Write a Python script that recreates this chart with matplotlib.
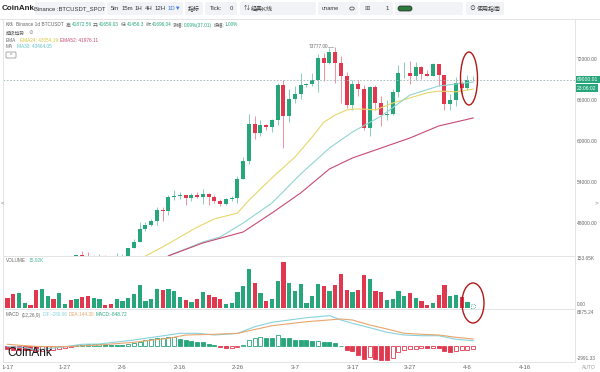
import matplotlib
matplotlib.use("Agg")
import matplotlib.pyplot as plt
import matplotlib.dates as mdates
from matplotlib.patches import Ellipse, FancyBboxPatch
from matplotlib.transforms import Bbox, IdentityTransform, blended_transform_factory
import pandas as pd

plt.rcParams['font.family'] = ['Liberation Sans', 'Noto Sans CJK SC', 'DejaVu Sans']

# ---- data: Binance BTCUSDT 1d, 2024-01-17 .. 2024-04-07 ----
dates = pd.date_range('2024-01-17', '2024-04-07', freq='D')

opens = [43137.94, 42776.00, 41327.51, 41659.03, 41696.05, 41580.32, 39568.02, 39897.59,
         40084.89, 39961.09, 41823.51, 42120.63, 42031.05, 43302.71, 42941.10,
         42580.00, 43082.94, 43199.99, 43011.09, 42582.88, 42708.70, 43098.96, 44349.60,
         45288.66, 47132.78, 47751.08, 48300.00, 49917.28, 49699.60, 51795.17, 51880.01,
         52124.10, 51642.64, 52137.68, 51774.74, 52258.82, 51849.38, 51288.42, 50744.15,
         51568.21, 51728.85, 54476.48, 57037.35, 62432.11,
         61130.99, 62387.90, 61987.28, 63113.97, 68245.71, 63724.01, 66074.03, 66823.18,
         68124.20, 68313.28, 68955.88, 72078.10, 71452.00, 73072.40, 71388.94, 69499.84,
         65300.64, 68393.47, 67610.00, 61937.41, 67840.51, 65501.28, 63796.64, 63990.02,
         67210.00, 69880.00, 69988.00, 69469.99, 70780.60, 69850.53, 69582.17,
         71280.00, 69649.81, 65463.99, 65963.27, 68487.80, 67820.63, 68896.00]
highs = [43198.00, 42930.00, 42196.86, 41872.56, 41881.39, 41689.65, 40176.74, 40555.00,
         40300.24, 42246.82, 42200.00, 42842.68, 43333.00, 43882.36, 43745.11,
         43285.13, 43488.00, 43380.01, 43119.04, 43569.76, 43399.98, 44396.50, 45614.30,
         48200.00, 48170.00, 48592.66, 50334.82, 50368.61, 52043.71, 52816.62, 52572.08,
         52162.82, 52377.00, 52488.77, 52985.00, 52366.80, 52065.78, 51548.54, 51698.00,
         51958.55, 54910.00, 57588.15, 64000.00, 63676.35,
         63114.23, 62433.19, 63231.88, 68499.00, 69000.00, 67637.93, 67985.00, 69990.00,
         68541.10, 69887.61, 72800.00, 72890.00, 73650.25, 73777.00, 72419.71, 70043.00,
         68904.40, 68956.00, 68124.11, 68100.00, 68240.47, 66649.62, 65999.00, 67628.69,
         71150.00, 71561.10, 71769.54, 71552.06, 70916.16, 70321.10, 71366.00,
         71288.23, 69674.23, 66903.63, 69309.91, 68756.67, 69692.00, 69500.00]
lows = [42200.69, 40683.28, 40280.00, 41456.30, 41500.98, 39431.58, 38555.00, 39484.19,
        39550.00, 39822.52, 41394.34, 41620.81, 41804.88, 42683.99, 42276.84,
        41884.28, 42546.79, 42880.00, 42222.00, 42258.10, 42574.00, 42788.00, 44331.10,
        45242.12, 46800.00, 47557.16, 47710.01, 48300.95, 49225.01, 51314.00, 51566.00,
        50625.00, 51163.28, 51677.00, 50760.37, 50625.00, 50940.78, 50521.00, 50585.00,
        51279.80, 50901.44, 54450.13, 56691.85, 60364.70,
        60777.00, 61561.12, 61320.00, 62300.00, 59005.00, 62848.67, 65550.00, 66082.66,
        67861.10, 68094.75, 67194.88, 68845.86, 71333.31, 68555.00, 65600.00, 64780.00,
        64533.00, 66565.20, 61555.00, 60775.00, 64529.01, 62260.00, 63000.00, 63772.29,
        66385.06, 69280.00, 68359.18, 68903.62, 69009.00, 69540.00, 69562.99,
        68062.86, 64550.00, 64493.07, 65064.52, 66578.39, 67447.83, 68716.00]
closes = [42776.10, 41327.50, 41659.03, 41696.04, 41580.33, 39568.02, 39897.60, 40084.88,
          39961.09, 41823.51, 42120.63, 42031.06, 43302.70, 42941.10, 42580.00,
          43082.94, 43200.00, 43011.10, 42582.88, 42708.70, 43098.95, 44349.60, 45288.65,
          47132.77, 47751.09, 48299.99, 49917.27, 49699.59, 51795.17, 51880.00, 52124.11,
          51642.64, 52137.67, 51774.73, 52258.82, 51849.39, 51288.42, 50744.15, 51568.22,
          51728.85, 54476.47, 57037.34, 62432.10, 61130.98,
          62387.90, 61987.28, 63113.97, 68245.71, 63724.01, 66074.04, 66823.17, 68124.19,
          68313.27, 68955.88, 72078.10, 71452.01, 73072.41, 71388.94, 69499.85, 65300.63,
          68393.48, 67609.99, 61937.40, 67840.51, 65501.27, 63796.64, 63990.01, 67209.99,
          69880.01, 69988.00, 69469.99, 70780.60, 69850.54, 69582.18, 71280.01,
          69649.80, 65463.99, 65963.28, 68487.79, 67820.62, 68896.00, 69000.01]

# volume in thousands of BTC
volumes = [33.8, 45.8, 51.2, 15.92, 8.7, 58.9, 62.0, 40.3, 31.6, 49.0, 13.0, 26.2, 31.6,
           38.1, 41.4,
           34.9, 29.4, 9.8, 14.2, 29.4, 24.0, 34.9, 46.9, 78.5, 22.9, 29.4, 63.2, 60.0,
           62.0, 57.8, 38.1, 25.1, 20.7, 29.4, 52.3, 44.7, 36.0, 30.5, 14.2, 15.3, 53.4,
           71.9, 129.7, 84.0,
           49.0, 24.0, 29.4, 91.6, 153.65, 85.0, 55.6, 79.5, 17.4, 39.2, 80.7, 74.2, 55.6,
           77.5, 113.4, 58.9, 52.3, 58.9, 110.2, 98.1, 55.6, 54.6, 26.2, 31.7, 55.6, 39.2,
           51.3, 35.0, 23.9, 9.8, 17.3,
           42.5, 77.5, 40.2, 42.5, 37.0, 18.6, 12.0]

# MACD histogram
macd_hist = [-600, -780, -820, -848.72, -900, -1070, -1000, -850, -720, -560, -380, -220,
             280, 300, 420,
             480, 520, 380, 240, 210, 190, 420, 710, 1000, 1350, 1570, 1780, 1920, 2060,
             2100, 1710, 1430, 1210, 1000, 860, 500, 290, -250, -320, -280, -150, 360,
             1430, 1850,
             2000, 1900, 1850, 2500, 1850, 1780, 1500, 1430, 1360, 1210, 1250, 1070, 1050,
             780, 100, -860, -1000, -1920, -2780, -2500, -2780, -2960, -2991.33, -2640,
             -1210, -930, -640, -500, -360, -420, -300,
             -430, -1070, -1210, -1070, -930, -780, -710]

# indicator lines
ema24_dates = ['2024-02-10', '2024-02-13', '2024-02-19', '2024-02-22', '2024-02-26',
               '2024-02-28', '2024-03-03', '2024-03-07', '2024-03-10', '2024-03-12',
               '2024-03-14', '2024-03-16', '2024-03-18', '2024-03-21', '2024-03-24',
               '2024-03-27', '2024-03-30', '2024-04-01', '2024-04-04', '2024-04-07']
ema24_vals = [43170, 44500, 47400, 48600, 49450, 51350, 54600, 57650, 60600, 62750,
              63800, 64550, 64700, 64550, 65550, 66300, 67050, 67300, 67200, 67600]
ma30_dates = ['2024-02-14', '2024-02-20', '2024-02-23', '2024-02-27', '2024-03-03',
              '2024-03-08', '2024-03-13', '2024-03-17', '2024-03-22', '2024-03-27',
              '2024-04-01', '2024-04-07']
ma30_vals = [43200, 45230, 45960, 48000, 50930, 55175, 58980, 61320, 63660, 66730,
             68050, 68630]
ema52_dates = ['2024-02-14', '2024-02-20', '2024-02-27', '2024-03-03', '2024-03-08',
               '2024-03-13', '2024-03-17', '2024-03-22', '2024-03-27', '2024-04-01',
               '2024-04-07']
ema52_vals = [43200, 45080, 46690, 49470, 52400, 55910, 57520, 58980, 60440, 62200, 63370]

dif_dates = ['2024-01-17', '2024-01-20', '2024-01-22', '2024-01-27', '2024-01-30',
             '2024-02-02', '2024-02-08', '2024-02-12', '2024-02-16', '2024-02-19',
             '2024-02-22', '2024-02-26', '2024-02-29', '2024-03-03', '2024-03-06',
             '2024-03-09', '2024-03-13', '2024-03-15', '2024-03-17', '2024-03-20',
             '2024-03-23', '2024-03-26', '2024-03-29', '2024-04-01', '2024-04-04',
             '2024-04-07']
dif_vals = [-50, -280.06, -830, -90, 450, 515, 1410, 2150, 2910, 2910, 2530, 2870, 4390,
            5380, 5890, 6400, 6875.24, 5890, 5150, 4170, 3140, 2530, 2370, 2370, 1570, 1250]
dea_dates = ['2024-01-17', '2024-01-20', '2024-01-23', '2024-01-27', '2024-02-02',
             '2024-02-08', '2024-02-14', '2024-02-17', '2024-02-22', '2024-02-26',
             '2024-03-03', '2024-03-09', '2024-03-15', '2024-03-17', '2024-03-20',
             '2024-03-23', '2024-03-26', '2024-03-29', '2024-04-01', '2024-04-04',
             '2024-04-07']
dea_vals = [450, 144.30, -90, -90, 290, 900, 1790, 2530, 2690, 2910, 4610, 5510, 6115,
            5890, 4770, 3875, 2910, 2690, 2530, 2016, 1635]

price_ticks = [48000, 54000, 60000, 66000, 72000]
date_ticks = ['2024-01-17', '2024-01-27', '2024-02-06', '2024-02-16', '2024-02-26',
              '2024-03-07', '2024-03-17', '2024-03-27', '2024-04-06', '2024-04-16']
date_labels = ['1-17', '1-27', '2-6', '2-16', '2-26', '3-7', '3-17', '3-27', '4-6', '4-16']
last_price = 69000.01
ath = 73777.00

# ---- style ----
W, H = 600, 372
GREEN = '#27a57b'
RED = '#e0394f'
GRAY = '#666666'
LINE = '#e4e4e4'
C_EMA24 = '#e6d76a'
C_EMA52 = '#c84a72'
C_MA30 = '#8fd5d3'
C_DIF = '#86d2dc'
C_DEA = '#e8a56c'

fig = plt.figure(figsize=(6, 3.72), dpi=100)
ident = IdentityTransform()


def ax_at(x0, y0, x1, y1, **kw):
    return fig.add_axes([x0 / W, 1 - y1 / H, (x1 - x0) / W, (y1 - y0) / H], **kw)


def txt(x, y, s, size=4, color=GRAY, **kw):
    kw.setdefault('va', 'center')
    return fig.text(x, H - y, s, transform=ident, fontsize=size, color=color, **kw)


def segs(x, y, parts, size):
    r = fig.canvas.get_renderer()
    for s, c, gap in parts:
        t = txt(x, y, s, size, c)
        x += t.get_window_extent(r).width + gap


def box(x0, x1, y0, y1, fc='#f1f3f6'):
    fig.patches.append(FancyBboxPatch((x0, H - y1), x1 - x0, y1 - y0,
                                      boxstyle='round,pad=0,rounding_size=2',
                                      transform=ident, fc=fc, ec='none'))


x = mdates.date2num(dates)
base = mdates.date2num(pd.Timestamp('2024-01-27'))
xlim = (base - 10.78, base + 88.7)
cols = [GREEN if c >= o else RED for o, c in zip(opens, closes)]

ax = ax_at(3, 19, 575, 256)
axv = ax_at(3, 256, 575, 309, sharex=ax)
axm = ax_at(3, 309, 575, 362, sharex=ax)
for a in (ax, axv, axm):
    a.set_xlim(*xlim)
    for sp in a.spines.values():
        sp.set_color(LINE)
        sp.set_linewidth(0.7)
    a.tick_params(length=0, labelsize=3.5, colors=GRAY, labelbottom=False)
    a.set_yticks([])

# ---- candles ----
ax.vlines(x, lows, highs, colors=cols, lw=0.7, alpha=0.55)
bottoms = [min(o, c) for o, c in zip(opens, closes)]
heights = [max(abs(c - o), 70) for o, c in zip(opens, closes)]
ax.bar(x, heights, bottom=bottoms, width=0.7, color=cols, lw=0)
ax.plot(mdates.date2num(pd.to_datetime(ema24_dates)), ema24_vals, color=C_EMA24, lw=0.8)
ax.plot(mdates.date2num(pd.to_datetime(ma30_dates)), ma30_vals, color=C_MA30, lw=0.8)
ax.plot(mdates.date2num(pd.to_datetime(ema52_dates)), ema52_vals, color=C_EMA52, lw=0.8)
ax.axhline(last_price, color='#9fb3b8', lw=0.6, ls=(0, (2, 2)))
ax.set_ylim(43170, 77854)

ath_x = mdates.date2num(pd.Timestamp('2024-03-14'))
ax.plot([ath_x - 1.2, ath_x - 0.4], [ath, ath], color='#999999', lw=0.5)
ax.text(ath_x - 1.3, ath, '%.2f' % ath, fontsize=3.4, color=GRAY, ha='right', va='center')

ax.yaxis.tick_right()
ax.set_yticks(price_ticks)
ax.set_yticklabels(['%.2f' % p for p in price_ticks])
ax.tick_params(axis='y', pad=1.5)

# ---- volume ----
axv.bar(x[:-1], volumes[:-1], width=0.72, color=cols[:-1], lw=0)
axv.bar(x[-1:], volumes[-1:], width=0.72, fc='none', ec=GREEN, lw=0.6, ls=':')
axv.set_ylim(-3.3, 173.7)

# ---- MACD ----
for xi, v, prev in zip(x, macd_hist, [0] + macd_hist[:-1]):
    c = GREEN if v >= 0 else RED
    if v > prev:
        axm.bar(xi, v, width=0.7, fc='white', ec=c, lw=0.6)
    else:
        axm.bar(xi, v, width=0.7, fc=c, ec=c, lw=0.6)
axm.plot(mdates.date2num(pd.to_datetime(dif_dates)), dif_vals, color=C_DIF, lw=0.8)
axm.plot(mdates.date2num(pd.to_datetime(dea_dates)), dea_vals, color=C_DEA, lw=0.8)
axm.set_ylim(-3517, 8355)

# date labels under the MACD panel, clipped at the chart's left border
xlab_tr = blended_transform_factory(axm.transData, ident)
clip = Bbox([[3, 0], [W, H]])
for d, s in zip(pd.to_datetime(date_ticks), date_labels):
    t = axm.text(mdates.date2num(d), H - 367.5, s, transform=xlab_tr, fontsize=4.4,
                 color=GRAY, ha='center', va='center')
    t.set_clip_on(True)
    t.set_clip_box(clip)

# ---- right axis labels ----
txt(577, 258.5, '153.65K', 3.4)
txt(577, 305, '0.00', 3.4)
txt(577, 312, '6875.24', 3.4)
txt(577, 358, '-2991.33', 3.4)
txt(582, 367.5, 'AUTO', 3.6, '#999999')
txt(577, 79.5, '%.2f' % last_price, 3.6, 'white',
    bbox=dict(boxstyle='square,pad=0.25', fc=GREEN, ec='none'))
txt(577, 88, '23:06:02', 3.6, 'white',
    bbox=dict(boxstyle='square,pad=0.25', fc=GREEN, ec='none'))
txt(1, 203, '<', 4.5, '#888888')
txt(595, 203, '>', 4.5, '#888888')

# ---- panel legends ----
segs(6, 25, [('K线', GRAY, 2.5), ('Binance 1d BTCUSDT', GRAY, 1.3),
             ('高:', GRAY, 0.2), ('41872.56', GREEN, 1.3),
             ('开:', GRAY, 0.2), ('41659.03', GREEN, 1.3),
             ('低:', GRAY, 0.2), ('41456.3', GREEN, 1.3),
             ('收:', GRAY, 0.2), ('41696.04', GREEN, 1.3),
             ('涨幅:', GRAY, 0.2), ('0.09%(37.01)', GREEN, 1.3),
             ('振幅:', GRAY, 0.2), ('1.00%', GREEN, 0)], 3.4)
segs(6, 33, [('超级趋势', GRAY, 3), ('⊘', '#999999', 0)], 3.4)
segs(6, 40, [('EMA', GRAY, 4), ('EMA24: 43054.19', '#d8c43a', 1.5),
             ('EMA52: 41976.11', C_EMA52, 0)], 3.4)
segs(6, 47, [('MA', GRAY, 4), ('MA30: 43464.05', '#5fc2c6', 0)], 3.4)
fig.patches.append(FancyBboxPatch((6, H - 58), 10, 6, boxstyle='round,pad=0,rounding_size=1',
                                  transform=ident, fc='white', ec='#888888', lw=0.5))
txt(11, 55.5, '^', 3.5, '#666666', ha='center')
segs(6, 261, [('VOLUME', GRAY, 3), ('15.92K', '#4bb3a0', 0)], 3.4)
segs(6, 315, [('MACD', GRAY, 2), ('(12,26,9)', GRAY, 2), ('DIF:-280.06', C_DIF, 1.2),
              ('DEA:144.30', C_DEA, 1.2), ('MACD:-848.72', GREEN, 0)], 3.4)
txt(7, 353, 'CoinAnk', 8.5, '#111111')

# ---- toolbar ----
fig.add_artist(plt.Line2D([0, W], [H - 18.5, H - 18.5], transform=ident, color=LINE, lw=0.7))
txt(2, 8.5, 'CoinAnk', 5.8, '#222222', weight='bold')
box(35, 105, 2, 15)
txt(70, 8.5, 'Binance :BTCUSDT_SPOT', 4.2, '#333333', ha='center')
box(107, 183, 2, 15)
segs(111, 8.5, [('5m', '#333333', 2), ('15m', '#333333', 2), ('1H', '#333333', 2),
                ('4H', '#333333', 2), ('12H', '#333333', 2), ('1D▼', '#3b78d8', 0)], 4.3)
box(185, 203, 2, 15)
txt(194, 8.5, '指标', 4.3, '#333333', ha='center')
box(205, 237, 2, 15)
txt(210, 8.5, 'Tick:', 4.3, '#333333')
txt(231, 8.5, '0', 4.3, '#333333', ha='center')
box(240, 316, 2, 15)
segs(244, 8.5, [('⇅', '#333333', 1), ('经典K线', '#333333', 0)], 4.3)
box(318, 358, 2, 15)
txt(322, 8.5, 'uname', 4.1, '#333333')
fig.patches.append(Ellipse((352, H - 8.5), 4.5, 3, transform=ident, fc='none',
                           ec='#555555', lw=0.6))
box(360, 393, 2, 15)
txt(364, 8.5, '⊞', 4.6, '#555555')
txt(387, 8.5, '1', 4.3, '#333333', ha='center')
box(395, 463, 2, 15)
fig.patches.append(FancyBboxPatch((398, H - 11), 14, 5, boxstyle='round,pad=0,rounding_size=2.5',
                                  transform=ident, fc='#2c7a3c', ec='#222222', lw=0.5))
box(466, 504, 2, 15)
segs(469, 8.5, [('⊙', '#333333', 1.5), ('使用指南', '#333333', 0)], 4.3)

# ---- red annotation ellipses ----
fig.patches.append(Ellipse((469, H - 78.5), 17, 53, transform=ident, fc='none',
                           ec='#b01818', lw=1.0))
fig.patches.append(Ellipse((473, H - 303), 22, 40, transform=ident, fc='none',
                           ec='#b01818', lw=1.0))

fig.savefig('out.png', dpi=100, facecolor='white')
